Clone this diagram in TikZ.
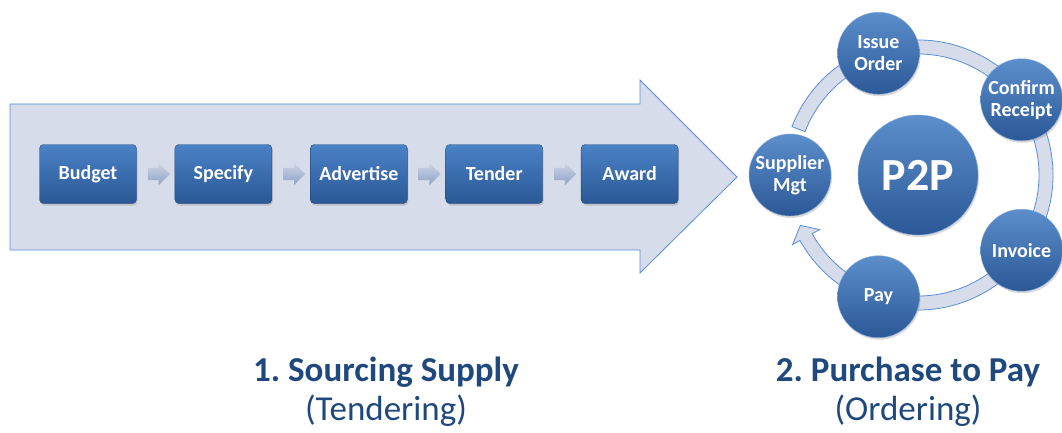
\documentclass[tikz,border=0pt]{standalone}
\usepackage{fontspec}
\setmainfont{Carlito}
\frenchspacing
\usetikzlibrary{positioning, calc}
\usetikzlibrary{shapes.arrows,shadows}
\definecolor{bandfill}{HTML}{D6DCE9}
\definecolor{bandline}{HTML}{5B8DD6}
\definecolor{boxtop}{HTML}{4A82C6}
\definecolor{boxbot}{HTML}{2B5896}
\definecolor{titleblue}{HTML}{1F497D}
\definecolor{stepgrey}{HTML}{8FA2C6}
\tikzset{
    stepbox/.style={shape=rectangle,rounded corners=4pt,minimum width=97pt,minimum height=59pt,
      top color=boxtop,bottom color=boxbot,draw=boxbot!85!black,text=white,
      font=\fontsize{20}{22}\selectfont\bfseries,
      drop shadow={opacity=0.3,shadow xshift=1pt,shadow yshift=-2pt}},
    steparrow/.style={single arrow,minimum height=22pt,minimum width=22pt,inner xsep=0pt,inner ysep=6pt,
      single arrow head extend=5pt,top color=stepgrey!45!white,bottom color=stepgrey,draw=none},
    cyclenode/.style={circle,minimum size=82pt,inner sep=0pt,align=center,
      top color=boxtop!90!white,bottom color=boxbot,draw=boxtop!70!white,text=white,
      font=\fontsize{20}{22}\selectfont\bfseries,
      drop shadow={opacity=0.3,shadow xshift=1pt,shadow yshift=-2pt}},
    titletext/.style={anchor=base,align=center,text=titleblue,font=\fontsize{35}{39}\selectfont},
  }
\begin{document}
\begin{tikzpicture}[x=1pt,y=1pt,>=stealth,node distance=38pt]
    \useasboundingbox (0,0) rectangle (1062,432);
    % big arrow for the sourcing stage
    \draw[fill=bandfill,draw=bandline,line width=0.8pt] (10,182) -- (640,182) -- (640,159) -- (737,255)
        -- (640,352) -- (640,328) -- (10,328) -- cycle;
    % create the nodes
    \node[stepbox] (budget) at (88,258) {Budget};
    \node[stepbox] (specify)[right =of budget] {Specify};
    \node[stepbox] (advertise)[right =of specify] {Advertise};
    \node[stepbox] (tender)[right =of advertise] {Tender};
    \node[stepbox] (award)[right =of tender] {Award};
    \node[steparrow] (budget-specify) at ($(budget.east)!0.5!(specify.west)$) {};
    \node[steparrow] (specify-advertise) at ($(specify.east)!0.5!(advertise.west)$) {};
    \node[steparrow] (advertise-tender) at ($(advertise.east)!0.5!(tender.west)$) {};
    \node[steparrow] (tender-award) at ($(tender.east)!0.5!(award.west)$) {};
    % the P2P cycle
    \coordinate (hub) at (918,257);
    \draw[fill=bandfill,draw=bandline,line width=0.8pt] ($(hub)+(159:135)$) arc[start angle=159,end angle=-151,radius=135]
        -- ($(hub)+(-151:143.5)$) -- ($(hub)+(-156.8:128)$) -- ($(hub)+(-151:112.5)$)
        -- ($(hub)+(-151:121)$) arc[start angle=-151,end angle=159,radius=121] -- cycle;
    \node[cyclenode,minimum size=120pt,font=\fontsize{46}{50}\selectfont\bfseries] (p2p) at (hub) {P2P};
    \node[cyclenode] (supplier) at ($(hub)+(180:128)$) {Supplier\\Mgt};
    \node[cyclenode] (issue) at ($(hub)+(108:128)$) {Issue\\Order};
    \node[cyclenode] (confirm) at ($(hub)+(36:128)$) {Confirm\\Receipt};
    \node[cyclenode] (invoice) at ($(hub)+(-36:128)$) {Invoice};
    \node[cyclenode] (pay) at ($(hub)+(-108:128)$) {Pay};
    % captions
    \node[titletext] (sourcing) at (386,12) {\textbf{1. Sourcing Supply}\\(Tendering)};
    \node[titletext] (purchase) at (908,12) {\textbf{2. Purchase to Pay}\\(Ordering)};
\end{tikzpicture}
\end{document}
